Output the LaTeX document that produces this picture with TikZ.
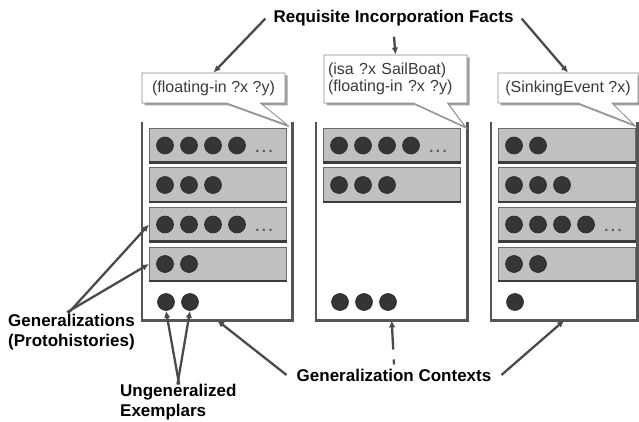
\documentclass[tikz,border=0pt]{standalone}
\usepackage{fontspec}
\setmainfont{Liberation Sans}
\usetikzlibrary{shapes.callouts,shadows,arrows.meta,calc}
\definecolor{ink}{HTML}{4A4A4A}
\definecolor{rowfill}{HTML}{C0C0C0}
\definecolor{rowedge}{HTML}{6A6A6A}
\definecolor{rowbottom}{HTML}{3C3C3C}
\definecolor{dotfill}{HTML}{353535}
\definecolor{boxline}{HTML}{555555}
\definecolor{callline}{HTML}{8A8A8A}
\definecolor{calltext}{HTML}{3A3A3A}
\definecolor{moretext}{HTML}{5A5A5A}
\begin{document}
\begin{tikzpicture}[x=1pt,y=-1pt,
  lab/.style={font=\fontsize{17}{20}\selectfont\bfseries, text=black, inner sep=4pt},
  rowbox/.style={draw=rowedge, line width=1pt, fill=rowfill, minimum width=137pt, minimum height=34pt, anchor=north west, inner sep=0pt},
  dotnode/.style={circle, fill=dotfill, draw=black!85, line width=0.6pt, minimum size=17pt, inner sep=0pt},
  ctxframe/.style={draw=none, minimum height=198pt, anchor=north west, inner sep=0pt},
  ctxline/.style={draw=boxline, line width=2.4pt},
  fact/.style={rectangle callout, draw=callline, fill=white, line width=0.8pt,
    font=\fontsize{16}{17.5}\selectfont, text=calltext, inner sep=4pt,
    callout pointer width=34pt,
    drop shadow={shadow xshift=2.5pt, shadow yshift=-2.5pt, fill=gray!75, opacity=1}},
  arr/.style={draw=ink, line width=2.3pt, -{Latex[length=7pt,width=6.5pt]}},
  ellip/.style={font=\fontsize{15}{17}\selectfont\bfseries, text=moretext, anchor=base, inner sep=0pt}
]
\useasboundingbox (0,0) rectangle (639,422);

% context frames (open at the top)
\node[ctxframe, minimum width=150pt] (LC) at (142,122) {};
\node[ctxframe, minimum width=151pt] (MC) at (316,122) {};
\node[ctxframe, minimum width=146pt] (RC) at (491,122) {};
\foreach \c in {LC,MC,RC}
  \draw[ctxline] (\c.north west) |- (\c.south east) -- (\c.north east);

% generalization rows
\foreach \r/\x/\y/\n/\e in {L1/149/128/4/1, L2/149/167.5/3/0, L3/149/207/4/1, L4/149/246.5/2/0,
                            M1/323/128/4/1, M2/323/167.5/3/0,
                            R1/498/128/2/0, R2/498/167.5/3/0, R3/498/207/4/1, R4/498/246.5/2/0} {
  \node[rowbox] (\r) at (\x,\y) {};
  \draw[rowbottom, line width=2.4pt] ([yshift=0.6pt]\r.south west) -- ([yshift=0.6pt]\r.south east);
  \foreach \k in {1,...,\n}
    \node[dotnode] (\r-\k) at ($(\r.west)+({16+24*(\k-1)},0)$) {};
  \ifnum\e=1 \node[ellip] (\r-more) at ($(\r.east)+(-23,7)$) {.\,.\,.};\fi
}

% ungeneralized exemplars
\node[dotnode] (LB1) at (166,302) {};
\node[dotnode] (LB2) at (190,302) {};
\node[dotnode] (MB1) at (340,302) {};
\node[dotnode] (MB2) at (364,302) {};
\node[dotnode] (MB3) at (388,302) {};
\node[dotnode] (RB1) at (515,302) {};

% incorporation facts
\node[fact, minimum width=143pt, minimum height=30pt,
  callout absolute pointer={($(LC.north east)+(-5,3)$)}] (c1) at (213.5,88) {(floating-in ?x ?y)};
\node[fact, minimum width=143pt, minimum height=48pt, text width=135pt, align=left,
  callout absolute pointer={($(MC.north east)+(-2,5)$)}] (c2) at (395.5,79) {(isa ?x SailBoat)\\(floating-in ?x ?y)};
\node[fact, minimum width=140pt, minimum height=30pt,
  callout absolute pointer={($(RC.north east)+(-3,3)$)}] (c3) at (568,88) {(SinkingEvent ?x)};

% labels
\node[lab, anchor=base, inner xsep=8pt] (title) at (393.5,23) {Requisite Incorporation Facts};
\node[lab, anchor=north west, align=left] (gen) at (4,309.6) {Generalizations\\(Protohistories)};
\node[lab, anchor=north west, align=left] (ung) at (116,379.6) {Ungeneralized\\Exemplars};
\node[lab, anchor=base, inner xsep=10pt] (gc) at (394,381) {Generalization Contexts};

% connectors
\draw[arr] (title.west) -- (c1.north);
\draw[arr, shorten <=6pt] (title.south) -- (c2.north);
\draw[arr] (title.east) -- (c3.north);
\draw[arr, shorten <=-5pt] (gen.north) -- (L3.west);
\draw[arr, shorten <=-5pt] (gen.north) -- (L4.west);
\draw[arr, shorten <=-5pt] (ung.north) -- (LB1.south);
\draw[arr, shorten <=-5pt] (ung.north) -- (LB2.south);
\draw[arr] (gc.west) -- (LC.south);
\draw[arr, dash pattern=on 5pt off 10pt on 60pt] (gc.north) -- (MC.south);
\draw[arr] (gc.east) -- (RC.south);
\end{tikzpicture}
\end{document}
